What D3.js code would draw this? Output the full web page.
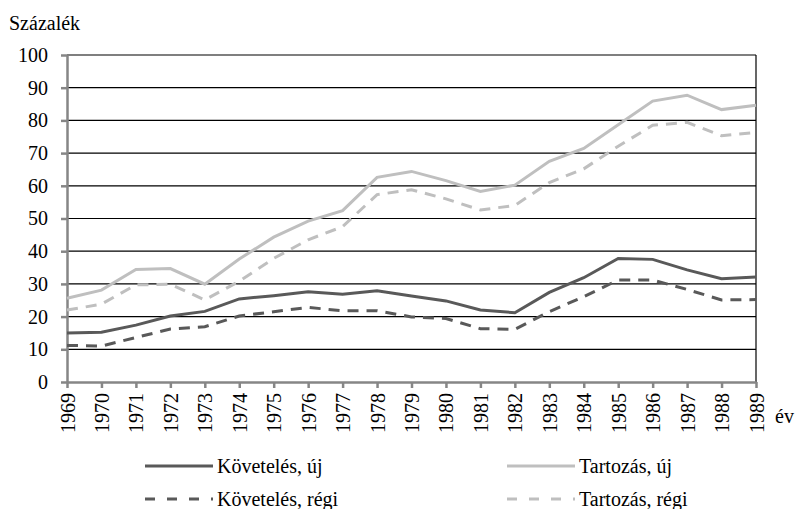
<!DOCTYPE html>
<html>
<head>
  <meta charset="utf-8">
  <script src="https://d3js.org/d3.v7.min.js"></script>
  <style>
    body {
      margin: 0;
      background: #fff;
    }
    svg text {
      font-family: "Liberation Serif", "Times New Roman", serif;
      font-size: 20px;
      fill: #000;
    }
  </style>
</head>
<body>
  <div id="chart"></div>

  <script>
    // data
    const years = d3.range(1969, 1990);
    const kovetelesUj =   [15.0, 15.2, 17.4, 20.2, 21.6, 25.4, 26.4, 27.6, 26.8, 27.9, 26.3, 24.8, 22.0, 21.2, 27.4, 31.9, 37.8, 37.5, 34.3, 31.6, 32.1];
    const kovetelesRegi = [11.2, 11.0, 13.6, 16.2, 16.9, 20.2, 21.5, 22.8, 21.8, 21.8, 19.9, 19.4, 16.3, 16.1, 21.5, 26.1, 31.2, 31.2, 28.3, 25.1, 25.2];
    const tartozasUj =    [25.6, 28.1, 34.4, 34.7, 29.9, 37.6, 44.3, 49.2, 52.4, 62.6, 64.4, 61.6, 58.3, 60.2, 67.5, 71.4, 78.7, 85.9, 87.7, 83.3, 84.6];
    const tartozasRegi =  [22.0, 23.8, 29.7, 29.9, 25.1, 30.8, 37.8, 43.5, 47.5, 57.3, 58.8, 56.0, 52.6, 54.0, 61.0, 65.2, 72.1, 78.5, 79.4, 75.3, 76.3];
    const yTicks = [0, 10, 20, 30, 40, 50, 60, 70, 80, 90, 100];

    const series = [
      { name: 'Követelés, új',   values: kovetelesUj,   color: '#595959', dash: null },
      { name: 'Követelés, régi', values: kovetelesRegi, color: '#595959', dash: '11,8' },
      { name: 'Tartozás, új',    values: tartozasUj,    color: '#bfbfbf', dash: null },
      { name: 'Tartozás, régi',  values: tartozasRegi,  color: '#bfbfbf', dash: '11,8' }
    ];

    const width = 796, height = 509;
    const plot = { left: 67, right: 756, top: 55, bottom: 382 };

    const svg = d3.select('#chart').append('svg')
      .attr('width', width)
      .attr('height', height);

    const x = d3.scaleLinear().domain([1969, 1989]).range([plot.left, plot.right]);
    const y = d3.scaleLinear().domain([0, 100]).range([plot.bottom, plot.top]);

    // horizontal gridlines (black)
    svg.append('g')
      .selectAll('line')
      .data(yTicks.filter(d => d > 0))
      .join('line')
      .attr('x1', plot.left)
      .attr('x2', plot.right)
      .attr('y1', d => y(d))
      .attr('y2', d => y(d))
      .attr('stroke', '#000')
      .attr('stroke-width', 1.2);

    // right border
    svg.append('line')
      .attr('x1', plot.right).attr('x2', plot.right)
      .attr('y1', plot.top).attr('y2', plot.bottom)
      .attr('stroke', '#000')
      .attr('stroke-width', 1.2);

    // y axis
    const yAxis = svg.append('g')
      .attr('transform', `translate(${plot.left},0)`)
      .call(d3.axisLeft(y).tickValues(yTicks).tickSize(6).tickSizeOuter(0).tickPadding(13));

    // x axis with rotated year labels
    const xAxis = svg.append('g')
      .attr('transform', `translate(0,${plot.bottom})`)
      .call(d3.axisBottom(x).tickValues(years).tickFormat(d3.format('d')).tickSize(6).tickSizeOuter(0));

    xAxis.selectAll('text')
      .attr('transform', 'rotate(-90)')
      .attr('x', -11)
      .attr('y', 0)
      .attr('dy', '0.35em')
      .attr('text-anchor', 'end');

    [yAxis, xAxis].forEach(ax => {
      ax.attr('font-size', null).attr('font-family', null);
      ax.select('.domain').attr('stroke', '#868686').attr('stroke-width', 2.5);
      ax.selectAll('.tick line').attr('stroke', '#868686').attr('stroke-width', 2.5);
    });

    // lines
    const line = d3.line()
      .x((d, i) => x(years[i]))
      .y(d => y(d));

    svg.append('g')
      .selectAll('path')
      .data(series)
      .join('path')
      .attr('d', d => line(d.values))
      .attr('fill', 'none')
      .attr('stroke', d => d.color)
      .attr('stroke-width', 3)
      .attr('stroke-dasharray', d => d.dash);

    // axis titles
    svg.append('text')
      .attr('x', 9)
      .attr('y', 30)
      .text('Százalék');

    svg.append('text')
      .attr('x', 775)
      .attr('y', 423)
      .text('év');

    // legend
    const legendPos = [
      { x: 145, y: 466 },
      { x: 145, y: 499 },
      { x: 507, y: 466 },
      { x: 507, y: 499 }
    ];

    const legend = svg.append('g')
      .selectAll('g')
      .data(series)
      .join('g')
      .attr('transform', (d, i) => `translate(${legendPos[i].x},${legendPos[i].y})`);

    legend.append('line')
      .attr('x1', 0)
      .attr('x2', 68)
      .attr('stroke', d => d.color)
      .attr('stroke-width', 3)
      .attr('stroke-dasharray', d => d.dash ? '10,12' : null);

    legend.append('text')
      .attr('x', 72)
      .attr('dy', '0.35em')
      .text(d => d.name);
  </script>
</body>
</html>
